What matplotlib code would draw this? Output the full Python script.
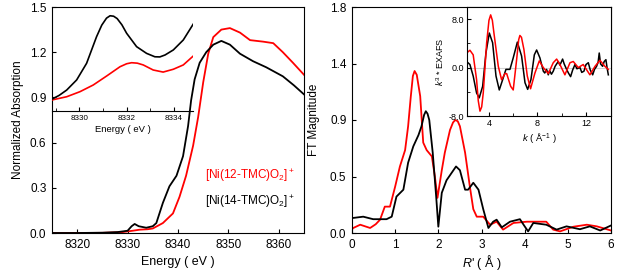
import matplotlib
matplotlib.use("Agg")
import matplotlib.pyplot as plt
from matplotlib.ticker import FixedLocator

plt.rcParams['font.family'] = ['Liberation Sans', 'DejaVu Sans']
plt.rcParams['mathtext.fontset'] = 'custom'
plt.rcParams['mathtext.rm'] = 'Liberation Sans'
plt.rcParams['mathtext.it'] = 'Liberation Sans:italic'

RED = '#ff0000'
BLK = '#000000'

# ---- XANES (left) ----
e_14 = [8315, 8320, 8325, 8328, 8330, 8330.8, 8331.4, 8332.2, 8333.7, 8335, 8335.7, 8337, 8338.3,
        8339.7, 8341, 8342, 8342.6, 8343.3, 8344.3, 8345.6, 8347, 8348.6, 8350.3, 8352.3,
        8354.9, 8357.5, 8360.8, 8363, 8365]
a_14 = [0.0, 0.0, 0.002, 0.006, 0.015, 0.045, 0.06, 0.045, 0.035, 0.045, 0.066, 0.2, 0.31,
        0.38, 0.51, 0.71, 0.88, 1.02, 1.13, 1.2, 1.25, 1.275, 1.25, 1.19,
        1.14, 1.10, 1.04, 0.98, 0.92]
e_12 = [8315, 8320, 8325, 8329, 8331, 8332.4, 8334, 8335, 8337, 8339, 8340.3, 8341.6, 8343,
        8344, 8345, 8346, 8347, 8348.6, 8350.3, 8352.3, 8354.3, 8356.9, 8358.9, 8360.8,
        8362.8, 8365]
a_12 = [0.0, 0.0, 0.001, 0.006, 0.015, 0.022, 0.025, 0.03, 0.066, 0.13, 0.24, 0.38, 0.58,
        0.77, 1.0, 1.19, 1.3, 1.35, 1.36, 1.33, 1.28, 1.27, 1.26, 1.2,
        1.13, 1.05]

# pre-edge inset
pe_e14 = [8328.84, 8329.15, 8329.47, 8329.89, 8330.31, 8330.73, 8330.95, 8331.15, 8331.30, 8331.45,
          8331.6, 8331.8, 8332.0, 8332.42, 8332.84, 8333.19, 8333.4, 8333.62, 8333.97, 8334.39,
          8334.81]
pe_a14 = [0.0079, 0.0105, 0.0141, 0.0209, 0.0321, 0.0500, 0.0578, 0.0625, 0.0641, 0.0638,
          0.0622, 0.0580, 0.0523, 0.0433, 0.0388, 0.0365, 0.0364, 0.0377, 0.0411, 0.0478,
          0.0585]
pe_e12 = [8328.84, 8329.47, 8330.03, 8330.59, 8331.16, 8331.72, 8332.0, 8332.21, 8332.45, 8332.70,
          8333.12, 8333.54, 8333.97, 8334.39, 8334.81]
pe_a12 = [0.0074, 0.0096, 0.0130, 0.0175, 0.0236, 0.0298, 0.0318, 0.0325, 0.0322, 0.0310,
          0.0276, 0.0262, 0.0281, 0.0310, 0.0370]

# ---- FT (right) ----
r_12 = [0.0, 0.03, 0.19, 0.42, 0.55, 0.65, 0.76, 0.88, 1.0, 1.11, 1.23, 1.3, 1.36, 1.41, 1.45, 1.5,
        1.58, 1.65, 1.73, 1.85, 1.92, 1.98, 2.08, 2.15, 2.27, 2.34, 2.39, 2.45, 2.5, 2.62, 2.73, 2.81,
        2.89, 3.04, 3.2, 3.35, 3.5, 3.74, 4.05, 4.5, 4.66, 4.82, 5.13, 5.44, 5.67, 6.0]
ft_12 = [0.03, 0.04, 0.066, 0.04, 0.07, 0.106, 0.21, 0.21, 0.37, 0.53, 0.66, 0.85, 1.08, 1.25, 1.29, 1.26,
         1.09, 0.72, 0.66, 0.61, 0.45, 0.28, 0.5, 0.64, 0.82, 0.88, 0.9, 0.89, 0.85, 0.64, 0.37, 0.19,
         0.13, 0.13, 0.066, 0.09, 0.027, 0.08, 0.09, 0.09, 0.027, 0.013, 0.05, 0.066, 0.053, 0.02]
r_14 = [0.0, 0.03, 0.26, 0.49, 0.8, 0.92, 1.03, 1.19, 1.3, 1.42, 1.54, 1.61, 1.67, 1.71, 1.75, 1.79,
        1.87, 1.95, 2.0, 2.08, 2.19, 2.31, 2.41, 2.5, 2.62, 2.69, 2.81, 2.93, 3.04, 3.16, 3.27,
        3.35, 3.47, 3.66, 3.89, 4.0, 4.08, 4.2, 4.5, 4.74, 4.97, 5.28, 5.51, 5.75, 6.0]
ft_14 = [0.12, 0.12, 0.13, 0.11, 0.11, 0.13, 0.29, 0.345, 0.56, 0.69, 0.78, 0.85, 0.94, 0.97, 0.95,
         0.9, 0.64, 0.29, 0.05, 0.32, 0.42, 0.48, 0.53, 0.5, 0.345, 0.345, 0.40, 0.345, 0.19, 0.04,
         0.09, 0.106, 0.045, 0.09, 0.11, 0.053, 0.013, 0.08, 0.066, 0.027, 0.053, 0.03, 0.053,
         0.02, 0.06]

# EXAFS inset
k_12 = [2.16, 2.43, 2.7, 2.98, 3.12, 3.26, 3.4, 3.53, 3.81, 4.0, 4.14, 4.28, 4.41, 4.77, 5.04, 5.32,
        5.46, 5.79, 6.0, 6.28, 6.45, 6.55, 6.68, 6.88, 7.16, 7.43, 7.79, 8.15, 8.48, 8.89, 9.3, 9.58,
        9.85, 10.26, 10.68, 10.95, 11.36, 11.77, 12.32, 12.74, 13.15, 13.56, 13.84]
chi_12 = [2.4, 2.86, 2.1, -2.0, -5.5, -7.2, -6.5, -4.2, 4.1, 7.8, 8.7, 7.8, 5.7, 0.2, -2.0, -1.0,
          -1.0, -3.1, -3.7, 1.3, 4.6, 5.3, 5.0, 3.0, -1.4, -3.5, -0.9, 1.1, 0.0, -1.0, 0.8, 1.4,
          0.5, -1.2, 0.8, 1.0, 0.0, 0.5, -1.2, 0.2, 1.2, 0.2, -0.3]
k_14 = [2.16, 2.43, 2.7, 2.98, 3.2, 3.48, 3.75, 4.03, 4.3, 4.58, 4.85, 5.13, 5.4, 5.73, 6.0,
        6.34, 6.69, 6.97, 7.19, 7.46, 7.74, 7.93, 8.2, 8.48, 8.6, 8.75, 8.89, 9.0, 9.15, 9.3,
        9.45, 9.71, 9.85, 10.07, 10.2, 10.4, 10.55, 10.73, 10.9, 11.09, 11.25, 11.5, 11.65,
        11.83, 12.0, 12.19, 12.35, 12.55, 12.7, 12.87, 13.0, 13.09, 13.2, 13.37, 13.5,
        13.64, 13.75, 13.84]
chi_14 = [1.0, 0.5, -1.4, -4.2, -5.0, -3.1, 2.4, 5.7, 4.1, -1.4, -3.7, -2.0, -0.3, -0.3, 1.6,
          4.2, 1.9, -2.5, -3.6, -2.0, 2.1, 2.9, 1.6, -0.6, -0.9, -0.3, -1.2, -0.5, -1.1, -0.6,
          0.2, 1.0, 0.4, 1.4, 0.6, -0.3, -0.9, -1.5, -0.4, 0.5, -0.2, 0.0, -0.8,
          -0.6, 0.5, 0.8, -0.4, -1.2, -0.3, 0.2, 0.9, 2.4, 0.6, 0.2, 1.0,
          1.3, -0.2, -1.2]

fig = plt.figure(figsize=(6.4, 2.73), dpi=100)


def style(ax, size, pad=2):
    ax.tick_params(direction='in', which='both', labelsize=size, pad=pad)
    ax.tick_params(which='major', length=3)
    ax.tick_params(which='minor', length=2)


# left panel
ax1 = fig.add_axes([52 / 640, 1 - 233 / 273, 252 / 640, 226 / 273])
ax1.plot(e_12, a_12, color=RED, lw=1.3)
ax1.plot(e_14, a_14, color=BLK, lw=1.3)
ax1.set_xlim(8315, 8365)
ax1.set_ylim(0, 1.5)
ax1.set_xticks([8320, 8330, 8340, 8350, 8360])
ax1.set_yticks([0.0, 0.3, 0.6, 0.9, 1.2, 1.5])
ax1.set_yticklabels(['0.0', '0.3', '0.6', '0.9', '1.2', '1.5'])
style(ax1, 8.5, pad=4)
ax1.set_xlabel('Energy ( eV )', fontsize=9, labelpad=4)
ax1.set_ylabel('Normalized Absorption', fontsize=8.5, labelpad=4)
ax1.text(0.607, 0.252, r'[Ni(12-TMC)O$_2$]$^+$', color=RED, fontsize=8.5,
         transform=ax1.transAxes, va='center')
ax1.text(0.607, 0.138, r'[Ni(14-TMC)O$_2$]$^+$', color=BLK, fontsize=8.5,
         transform=ax1.transAxes, va='center')

ins1 = fig.add_axes([52 / 640, 1 - 111 / 273, 141 / 640, 104 / 273])
ins1.patch.set_alpha(0)
ins1.plot(pe_e12, pe_a12, color=RED, lw=1.2)
ins1.plot(pe_e14, pe_a14, color=BLK, lw=1.2)
ins1.set_xlim(8328.85, 8334.8)
ins1.set_ylim(0, 0.07)
for s in ['left', 'top', 'right']:
    ins1.spines[s].set_visible(False)
ins1.set_yticks([])
ins1.set_xticks([8330, 8332, 8334])
ins1.xaxis.set_minor_locator(FixedLocator([8329, 8331, 8333]))
style(ins1, 5.8, pad=3)
ins1.set_xlabel('Energy ( eV )', fontsize=6.8, labelpad=2)

# right panel
ax2 = fig.add_axes([352 / 640, 1 - 233 / 273, 259 / 640, 226 / 273])
ax2.plot(r_12, ft_12, color=RED, lw=1.3)
ax2.plot(r_14, ft_14, color=BLK, lw=1.3)
ax2.set_xlim(0, 6)
ax2.set_ylim(0, 1.8)
ax2.set_xticks([0, 1, 2, 3, 4, 5, 6])
ax2.set_yticks([0.0, 0.45, 0.9, 1.35, 1.8])
ax2.set_yticklabels(['0.0', '0.5', '0.9', '1.4', '1.8'])
style(ax2, 8.5, pad=4)
ax2.set_xlabel(r"$R$' ( Å )", fontsize=9, labelpad=2)
ax2.set_ylabel('FT Magnitude', fontsize=8.5, labelpad=7)

ins2 = fig.add_axes([467 / 640, 1 - 116 / 273, 144 / 640, 109 / 273])
ins2.axhline(0, color='#d0d0d0', lw=0.8, zorder=0)
ins2.plot(k_14, chi_14, color=BLK, lw=1.1)
ins2.plot(k_12, chi_12, color=RED, lw=1.1)
ins2.set_xlim(2.19, 14.06)
ins2.set_ylim(-8, 10)
ins2.set_xticks([4, 8, 12])
ins2.xaxis.set_minor_locator(FixedLocator([6, 10]))
ins2.set_yticks([-8, 0, 8])
ins2.set_yticklabels(['-8.0', '0.0', '8.0'])
ins2.yaxis.set_minor_locator(FixedLocator([-4, 4]))
style(ins2, 6.5)
ins2.set_xlabel(r'$k$ ( Å$^{-1}$ )', fontsize=6.8, labelpad=2)
ins2.set_ylabel(r'$k^3$ * EXAFS', fontsize=6.5, labelpad=2)

fig.savefig('out.png', dpi=100)
